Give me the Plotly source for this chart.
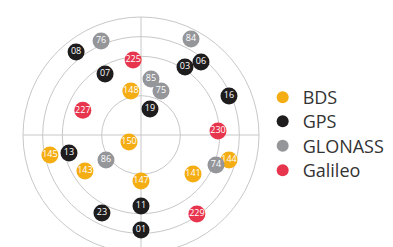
import plotly.graph_objects as go

# Satellite positions: zenith angle (deg, 0 = overhead) and azimuth (deg, clockwise from north)
bds_prn = ["148", "150", "145", "143", "147", "141", "144"]
bds_zen = [34.4, 10.6, 71.1, 50.8, 35.1, 49.6, 69.8]
bds_az = [347, 239.7, 257.6, 237.3, 180, 126.9, 105.9]

gps_prn = ["08", "03", "06", "07", "16", "19", "13", "11", "23", "01"]
gps_zen = [80.4, 61.8, 72.1, 54.0, 73.4, 21.0, 56.6, 54.2, 66.5, 72.5]
gps_az = [322, 32.9, 39.4, 329.5, 66.1, 19.1, 256, 180, 206.6, 180]

glo_prn = ["76", "84", "85", "75", "86", "74"]
glo_zen = [77.9, 82.6, 43.4, 36.9, 32.8, 61.6]
glo_az = [337, 27.5, 10.1, 24.4, 234.5, 111.8]

gal_prn = ["225", "227", "230", "229"]
gal_zen = [57.5, 48.2, 58.8, 73.8]
gal_az = [354, 293, 87.0, 144.7]

names = ["BDS", "GPS", "GLONASS", "Galileo"]
colors = ["#F5AD14", "#1E1C1C", "#95969A", "#E8354E"]
groups = [
    (bds_prn, bds_zen, bds_az),
    (gps_prn, gps_zen, gps_az),
    (glo_prn, glo_zen, glo_az),
    (gal_prn, gal_zen, gal_az),
]
legend_ids = ["legend", "legend2", "legend3", "legend4"]

fig = go.Figure()
for name, color, lid, (prn, zen, az) in zip(names, colors, legend_ids, groups):
    fig.add_trace(go.Scatterpolar(
        r=zen, theta=az, mode="markers+text", name=name, legend=lid,
        text=prn, textposition="middle center",
        textfont=dict(family="Open Sans", size=9, color="white"),
        marker=dict(size=17, color=color, line=dict(width=0)),
        cliponaxis=False,
    ))

W, H = 393, 247
cx, cy, R = 133, 127, 118
legend_font = dict(family="Open Sans", size=18, color="#333333")
legend_rows_px = [89.5, 113.5, 138, 162.5]  # anchor positions of legend rows (px from top)
legend_x = 0.648

layout_legends = {}
for lid, ypx in zip(legend_ids, legend_rows_px):
    layout_legends[lid] = dict(
        x=legend_x, y=1 - ypx / H, xanchor="left", yanchor="middle",
        itemsizing="constant", font=legend_font, bgcolor="rgba(0,0,0,0)",
    )

fig.update_layout(
    width=W, height=H,
    margin=dict(l=0, r=0, t=0, b=0),
    paper_bgcolor="white", plot_bgcolor="white",
    polar=dict(
        domain=dict(x=[(cx - R) / W, (cx + R) / W], y=[(H - cy - R) / H, (H - cy + R) / H]),
        bgcolor="white",
        radialaxis=dict(range=[0, 90], tickvals=[30, 60, 75, 90], showticklabels=False,
                        ticks="", showline=False, gridcolor="#C8C8C8", gridwidth=1),
        angularaxis=dict(direction="clockwise", rotation=90, tickvals=[0, 90, 180, 270],
                         showticklabels=False, ticks="", showline=True, linecolor="#C8C8C8",
                         linewidth=1, gridcolor="#C8C8C8", gridwidth=1),
    ),
    showlegend=True,
    **layout_legends,
)

fig.write_html("out.html")
